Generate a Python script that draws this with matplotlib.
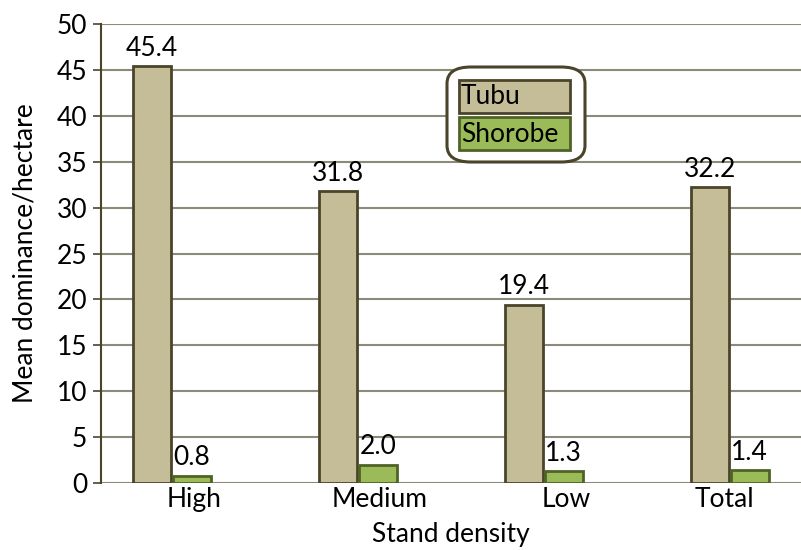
import numpy as np
import matplotlib.pyplot as plt
from matplotlib.patches import Rectangle, FancyBboxPatch
from matplotlib.transforms import ScaledTranslation

plt.rcParams['font.family'] = ['Lato', 'DejaVu Sans']

categorias = ["High", "Medium", "Low", "Total"]
tubu = [45.4, 31.8, 19.4, 32.2]
shorobe = [0.8, 2.0, 1.3, 1.4]

color_tubu = "#C4BD97"
borde_tubu = "#4A452A"
color_shorobe = "#9BBB59"
borde_shorobe = "#4F6228"
color_rejilla = "#8C8A78"
letra = 19

fig = plt.figure(figsize=(8.01, 5.5), dpi=100)
# el eje empieza en x=101 px y llega al borde derecho de la figura
ax = fig.add_axes([101 / 801, 67 / 550, 700 / 801, 459 / 550])

x = np.arange(len(categorias))
ancho = 0.205
b1 = ax.bar(x - 0.228, tubu, ancho, color=color_tubu, edgecolor=borde_tubu, linewidth=2, zorder=3)
b2 = ax.bar(x - 0.012, shorobe, ancho, color=color_shorobe, edgecolor=borde_shorobe, linewidth=2, zorder=3)

for barras, valores in ((b1, tubu), (b2, shorobe)):
    for b, v in zip(barras, valores):
        ax.annotate(f"{v:.1f}", (b.get_x() + b.get_width() / 2, v), xytext=(0, 4),
                    textcoords="offset points", ha="center", va="bottom", fontsize=letra, zorder=4)

ax.set_xlim(-0.5, -0.5 + 700 / 186)
ax.set_ylim(0, 50)
ax.set_yticks(range(0, 51, 5))
ax.set_xticks(x)
ax.set_xticklabels(categorias)
ax.tick_params(axis="x", length=0, labelsize=letra, pad=3)
ax.tick_params(axis="y", length=6, width=1.2, color="#4A452A", labelsize=letra, pad=4)
ax.yaxis.grid(True, color=color_rejilla, linewidth=1.5, zorder=0)
ax.set_axisbelow(True)

# la última etiqueta queda recogida hacia dentro del gráfico
ultima = ax.get_xticklabels()[-1]
ultima.set_transform(ultima.get_transform() + ScaledTranslation(-0.28, 0, fig.dpi_scale_trans))

for lado in ("top", "right", "bottom"):
    ax.spines[lado].set_visible(False)
ax.spines["left"].set_color("#4A452A")
ax.spines["left"].set_linewidth(1.5)

ax.set_ylabel("Mean dominance/hectare", fontsize=letra, labelpad=14)
ax.set_xlabel("Stand density", fontsize=letra, labelpad=7)

# leyenda con el texto dentro de los rectángulos de color
caja = FancyBboxPatch((447 / 801, (550 - 162) / 550), 138 / 801, 95 / 550,
                      boxstyle="round,pad=0,rounding_size=0.03", transform=fig.transFigure,
                      facecolor="white", edgecolor="#4A452A", linewidth=2.2, zorder=5)
fig.add_artist(caja)
entradas = [("Tubu", color_tubu, borde_tubu, 80), ("Shorobe", color_shorobe, borde_shorobe, 117)]
for nombre, cara, borde, arriba in entradas:
    r = Rectangle((459 / 801, (550 - arriba - 33) / 550), 111 / 801, 33 / 550,
                  transform=fig.transFigure, facecolor=cara, edgecolor=borde, linewidth=2, zorder=6)
    fig.add_artist(r)
    fig.text(461 / 801, (550 - arriba - 17) / 550, nombre, fontsize=letra,
             ha="left", va="center", zorder=7)

fig.savefig("out.png", dpi=100)
